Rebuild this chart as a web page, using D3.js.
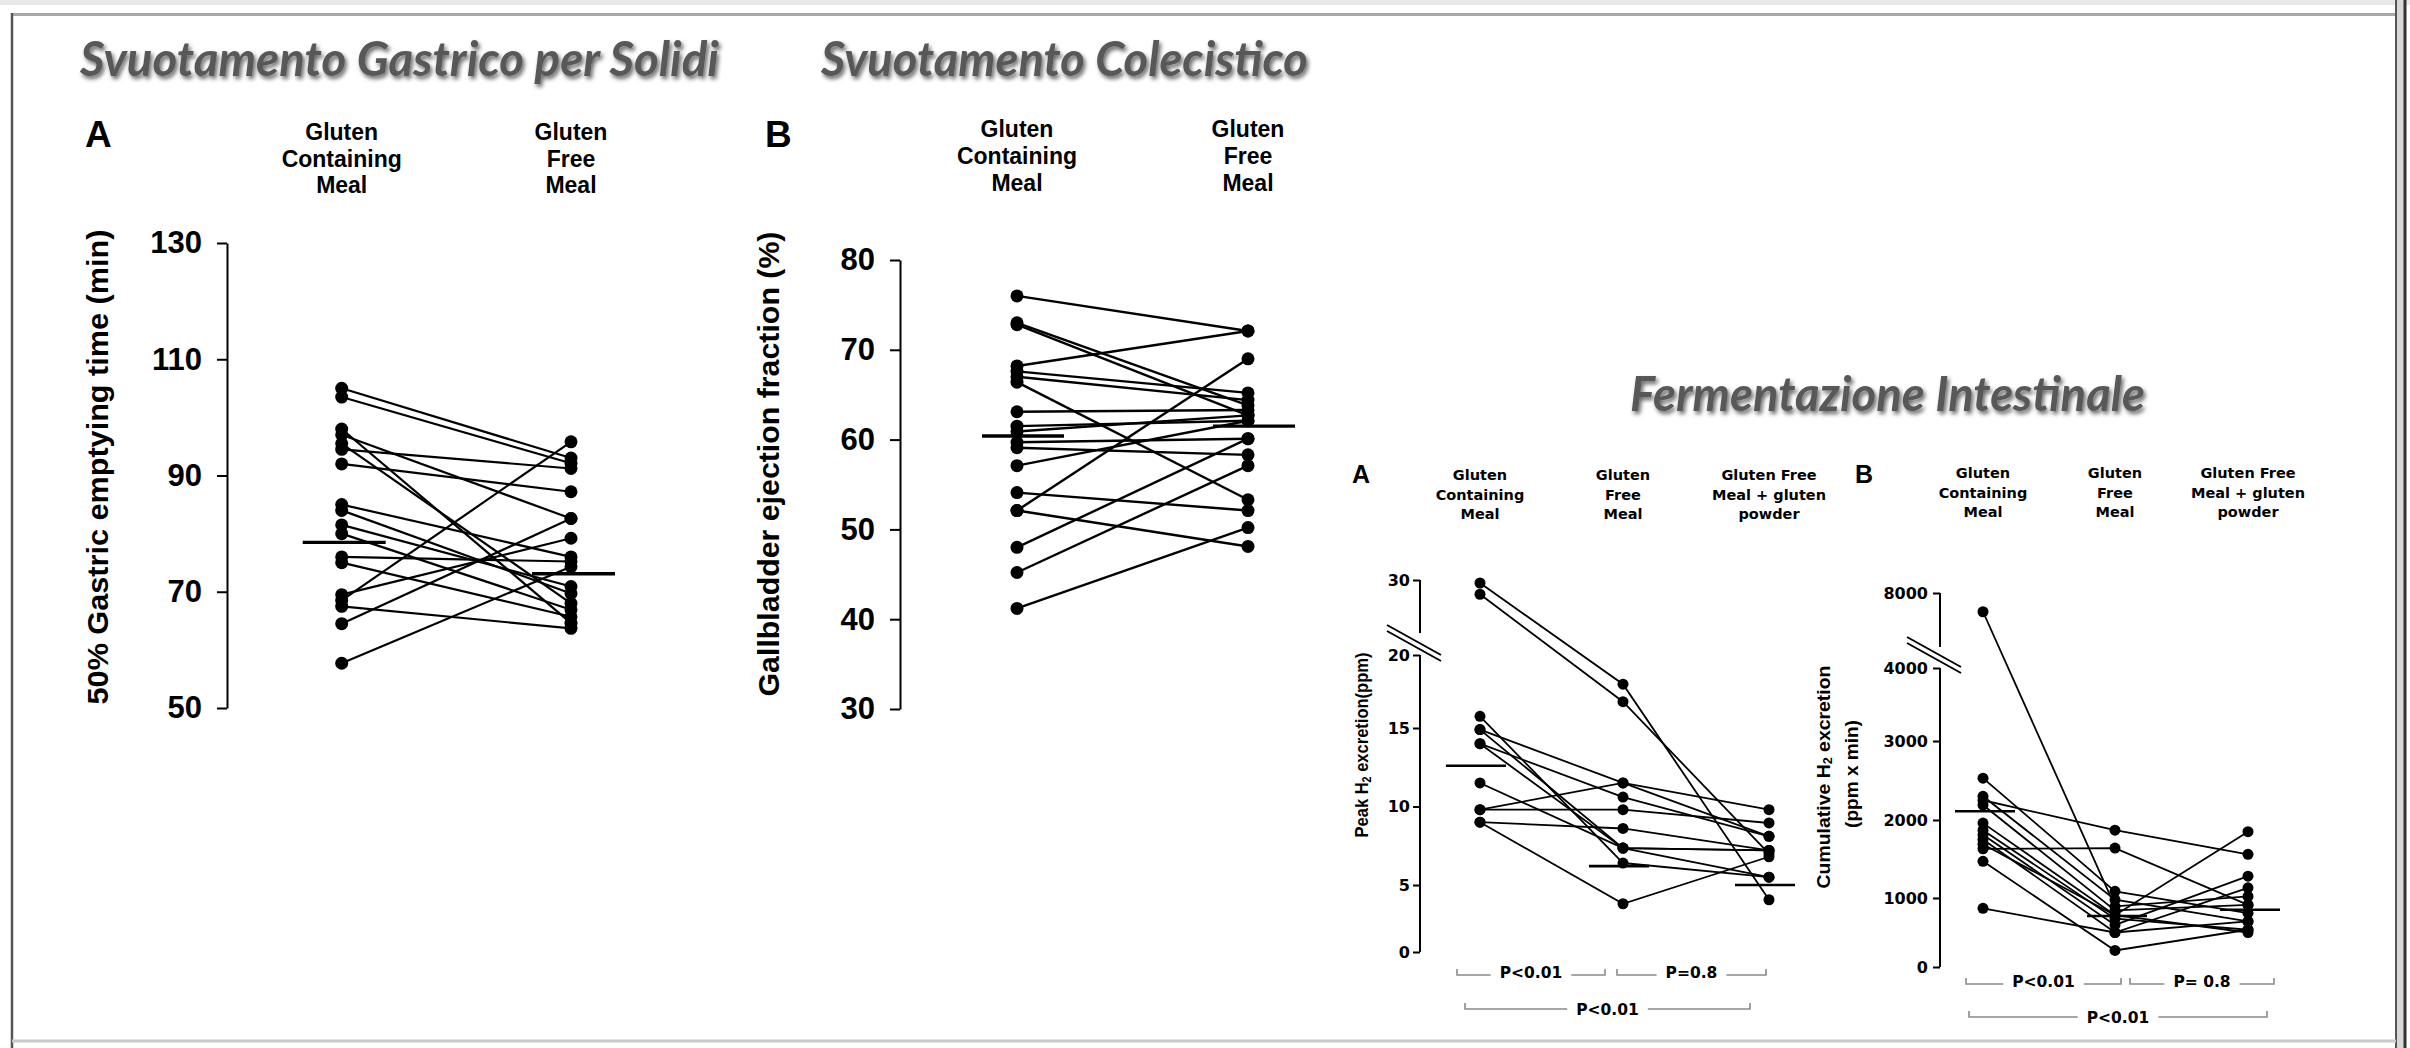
<!DOCTYPE html>
<html>
<head>
<meta charset="utf-8">
<script src="https://cdn.jsdelivr.net/npm/d3@7"></script>
<style>
  body { margin: 0; background: #fff; }
  svg { display: block; }
</style>
</head>
<body>
<div id="chart"></div>
<script>
// ---- data ----
const titles = ["Svuotamento Gastrico per Solidi", "Svuotamento Colecistico", "Fermentazione Intestinale"];

const twoGroups = ["Gluten Containing Meal", "Gluten Free Meal"];
const threeGroups = ["Gluten Containing Meal", "Gluten Free Meal", "Gluten Free Meal + gluten powder"];
const twoHeaders = [["Gluten", "Containing", "Meal"], ["Gluten", "Free", "Meal"]];
const threeHeaders = [["Gluten", "Containing", "Meal"], ["Gluten", "Free", "Meal"], ["Gluten Free", "Meal + gluten", "powder"]];

// gastric emptying (min)
const gastricTicks = [50, 70, 90, 110, 130];
const gastricGC = [105, 103.5, 98, 97, 95.5, 94.5, 92, 85, 84, 81.5, 80, 76, 75, 69.5, 68.5, 67.5, 64.5, 57.7];
const gastricGF = [93, 92.1, 64.6, 82.6, 68.0, 91.2, 87.2, 76.0, 69.7, 70.9, 66.9, 75.2, 65.7, 79.2, 95.8, 63.7, 82.6, 74.3];
const gastricMid = [78.5, 73.1];

// gallbladder ejection fraction (%)
const gbTicks = [30, 40, 50, 60, 70, 80];
const gbGC = [76.0, 73.0, 72.8, 68.2, 67.6, 67.0, 66.4, 63.1, 61.5, 60.9, 59.7, 59.1, 57.1, 54.1, 52.1, 52.1, 48.0, 45.2, 41.2];
const gbGF = [72.1, 63.8, 62.7, 72.1, 65.2, 64.4, 53.3, 63.3, 62.1, 62.7, 60.1, 58.3, 62.1, 52.1, 69.0, 48.1, 60.1, 57.1, 50.2];
const gbMid = [60.4, 61.5];

// peak H2 excretion (ppm)
const peakTicks = [0, 5, 10, 15, 20, 30];
const peakGC  = [29.6, 28.1, 15.8, 14.9, 14.9, 14.0, 14.0, 11.5, 9.8, 9.8, 9.0, 9.0];
const peakGF  = [18.0, 16.8, 6.4, 11.5, 7.35, 10.6, 7.35, 7.35, 11.5, 9.8, 8.6, 3.6];
const peakGFP = [3.9, 7.0, 5.5, 8.1, 7.2, 8.1, 7.2, 5.5, 9.8, 8.95, 7.2, 6.8];
const peakMid = [12.6, 6.2, 5.0];

// cumulative H2 excretion (ppm x min)
const cumTicks = [0, 1000, 2000, 3000, 4000, 8000];
const cumGC  = [7000, 2530, 2300, 2250, 2190, 1960, 1870, 1810, 1750, 1690, 1630, 1470, 850];
const cumGF  = [880, 1085, 975, 1870, 820, 750, 700, 610, 500, 750, 1640, 240, 500];
const cumGFP = [1020, 780, 660, 1560, 900, 1850, 540, 1280, 1130, 500, 900, 540, 660];
const cumMid = [2110, 740, 830];

const peakPvals = ["P<0.01", "P=0.8", "P<0.01"];
const cumPvals = ["P<0.01", "P= 0.8", "P<0.01"];

// ---- drawing ----
const ARIAL = "'Liberation Sans', Arial, sans-serif";
const VERD = "'DejaVu Sans', Verdana, sans-serif";

const svg = d3.select("#chart").append("svg")
  .attr("width", 2410).attr("height", 1048)
  .style("font-family", ARIAL);

const defs = svg.append("defs");
defs.append("filter").attr("id", "shadow")
  .attr("x", "-5%").attr("y", "-30%").attr("width", "112%").attr("height", "170%")
  .append("feDropShadow")
  .attr("dx", 2).attr("dy", 3).attr("stdDeviation", 2)
  .attr("flood-color", "#000").attr("flood-opacity", 0.6);

// frame of the slide
svg.append("rect").attr("x", 0).attr("y", 0).attr("width", 2410).attr("height", 5).attr("fill", "#e8e8e8");
svg.append("line").attr("x1", 12).attr("x2", 2400).attr("y1", 14.5).attr("y2", 14.5)
  .attr("stroke", "#a8a8a8").attr("stroke-width", 3);
svg.append("line").attr("x1", 12).attr("x2", 12).attr("y1", 13).attr("y2", 1048)
  .attr("stroke", "#555").attr("stroke-width", 2.5);
svg.append("rect").attr("x", 2396).attr("y", 0).attr("width", 9).attr("height", 1048).attr("fill", "#d8d8d8");
svg.append("line").attr("x1", 2396).attr("x2", 2396).attr("y1", 0).attr("y2", 1048)
  .attr("stroke", "#555").attr("stroke-width", 2);
svg.append("line").attr("x1", 2405).attr("x2", 2405).attr("y1", 0).attr("y2", 1048)
  .attr("stroke", "#333").attr("stroke-width", 3);
svg.append("line").attr("x1", 12).attr("x2", 2396).attr("y1", 1041).attr("y2", 1041)
  .attr("stroke", "#c8c8c8").attr("stroke-width", 3);

// section titles
const titlePos = [{x: 80, y: 76, len: 639}, {x: 821, y: 76, len: 487}, {x: 1630, y: 411, len: 515}];
svg.append("g").selectAll("text").data(titles).join("text")
  .attr("x", (d, i) => titlePos[i].x)
  .attr("y", (d, i) => titlePos[i].y)
  .attr("textLength", (d, i) => titlePos[i].len)
  .attr("lengthAdjust", "spacingAndGlyphs")
  .attr("font-family", "Lato, 'Open Sans', sans-serif")
  .attr("font-style", "italic")
  .attr("font-weight", "bold")
  .attr("font-size", 48)
  .attr("fill", "#595959")
  .attr("filter", "url(#shadow)")
  .text(d => d);

// squeeze a rotated label so that its length matches the picture
function fitRotated(g, target) {
  const t = g.select("text");
  const len = t.node().getComputedTextLength();
  const tr = g.attr("transform");
  g.attr("transform", tr + ` scale(${target / len},1)`);
}

function drawPanel(p) {
  const g = svg.append("g");
  const x = d3.scaleOrdinal().domain(p.groups).range(p.cols);
  const y = p.y;
  const subjects = d3.zip(...p.values);

  // axis
  const axis = d3.axisLeft(y).tickValues(p.ticks)
    .tickSize(p.tickSize).tickPadding(p.tickPad).tickSizeOuter(0)
    .tickFormat(d3.format("d"));
  const ax = g.append("g").attr("transform", `translate(${p.axisX},0)`).call(axis);
  ax.selectAll("text")
    .attr("font-size", p.tickFont).attr("font-weight", "bold")
    .attr("font-family", p.tickFamily).attr("fill", "#000");
  ax.selectAll("line").attr("stroke", "#000").attr("stroke-width", p.axisW);
  ax.select(".domain").attr("stroke", "#000").attr("stroke-width", p.axisW);

  if (p.brk) {
    ax.select(".domain").remove();
    const b = p.brk;
    ax.append("line").attr("x1", 0).attr("x2", 0)
      .attr("y1", y(b.at)).attr("y2", y(p.ticks[0]))
      .attr("stroke", "#000").attr("stroke-width", p.axisW);
    ax.append("line").attr("x1", 0).attr("x2", 0)
      .attr("y1", y(b.top)).attr("y2", y(b.top) + b.upperLen)
      .attr("stroke", "#000").attr("stroke-width", p.axisW);
    const cy = y(b.at) - b.rise;
    [0, b.gap].forEach(off => {
      ax.append("line")
        .attr("x1", -6 - b.halfW).attr("y1", cy - b.halfH + off)
        .attr("x2", -6 + b.halfW).attr("y2", cy + b.halfH + off)
        .attr("stroke", "#000").attr("stroke-width", 2);
    });
  }

  // subject lines and dots
  const line = d3.line().x((v, i) => x(p.groups[i])).y(v => y(v));
  g.append("g").selectAll("path").data(subjects).join("path")
    .attr("d", line).attr("fill", "none")
    .attr("stroke", "#000").attr("stroke-width", p.lineW);

  const pts = subjects.flatMap(s => s.map((v, i) => ({grp: p.groups[i], v})));
  g.append("g").selectAll("circle").data(pts).join("circle")
    .attr("cx", d => x(d.grp)).attr("cy", d => y(d.v)).attr("r", p.r).attr("fill", "#000");

  // central value bars
  g.append("g").selectAll("line").data(p.mid).join("line")
    .attr("x1", (v, i) => x(p.groups[i]) - p.midL)
    .attr("x2", (v, i) => x(p.groups[i]) + p.midR)
    .attr("y1", v => y(v)).attr("y2", v => y(v))
    .attr("stroke", "#000").attr("stroke-width", p.midW);

  // column headers
  const hd = g.append("g").attr("font-family", p.head.family).attr("font-weight", "bold")
    .attr("font-size", p.head.size).attr("text-anchor", "middle");
  p.headers.forEach((lines, i) => {
    hd.append("text").attr("x", x(p.groups[i])).attr("y", p.head.y0)
      .selectAll("tspan").data(lines).join("tspan")
      .attr("x", x(p.groups[i])).attr("dy", (d, k) => k === 0 ? 0 : p.head.lh)
      .text(d => d);
  });

  // panel letter
  g.append("text").attr("x", p.letter.x).attr("y", p.letter.y)
    .attr("font-size", p.letter.size).attr("font-weight", "bold").text(p.letter.t);

  // y axis titles
  p.titles.forEach(tt => {
    const tg = g.append("g").attr("transform", `translate(${tt.cx},${tt.cy}) rotate(-90)`);
    const t = tg.append("text").attr("text-anchor", "middle").attr("dominant-baseline", "central")
      .attr("font-size", tt.size).attr("font-weight", "bold");
    tt.parts.forEach(part => {
      if (part.sub) {
        t.append("tspan").attr("font-size", tt.size * 0.65).attr("dy", tt.size * 0.25).text(part.t);
      } else {
        t.append("tspan").attr("dy", part.after ? -tt.size * 0.25 : 0).text(part.t);
      }
    });
    fitRotated(tg, tt.len);
  });

  return x;
}

function drawBrackets(x, groups, labels, layout) {
  const g = svg.append("g").attr("font-family", VERD).attr("font-weight", "bold").attr("font-size", 15.5);
  labels.forEach((lab, i) => {
    const L = layout[i];
    const x1 = x(groups[L.from]) + L.o1;
    const x2 = x(groups[L.to]) + L.o2;
    const cx = (x1 + x2) / 2;
    const t = g.append("text").attr("x", cx).attr("y", L.ty).attr("text-anchor", "middle").text(lab);
    const w = t.node().getComputedTextLength();
    g.append("path")
      .attr("d", `M${x1},${L.ly - 6}V${L.ly}H${cx - w / 2 - 9}M${cx + w / 2 + 9},${L.ly}H${x2}V${L.ly - 6}`)
      .attr("fill", "none").attr("stroke", "#8a8a8a").attr("stroke-width", 1.6);
  });
}

// Panel A: gastric emptying
drawPanel({
  groups: twoGroups, headers: twoHeaders, values: [gastricGC, gastricGF], mid: gastricMid,
  cols: [341.7, 571], y: d3.scaleLinear().domain([50, 130]).range([708, 243]),
  ticks: gastricTicks, axisX: 227, tickSize: 10, tickPad: 15, tickFont: 31, tickFamily: ARIAL, axisW: 2,
  r: 6.5, lineW: 2.2, midW: 3.3, midL: 39, midR: 44,
  head: {y0: 140, lh: 26.6, size: 23, family: ARIAL},
  letter: {t: "A", x: 85, y: 147, size: 37},
  titles: [{parts: [{t: "50%  Gastric emptying time (min)"}], cx: 97, cy: 467, size: 30, len: 475}]
});

// Panel B: gallbladder
drawPanel({
  groups: twoGroups, headers: twoHeaders, values: [gbGC, gbGF], mid: gbMid,
  cols: [1017, 1248], y: d3.scaleLinear().domain([30, 80]).range([709, 260]),
  ticks: gbTicks, axisX: 900, tickSize: 10, tickPad: 15, tickFont: 31, tickFamily: ARIAL, axisW: 2,
  r: 6.5, lineW: 2.4, midW: 3.3, midL: 35, midR: 47,
  head: {y0: 137, lh: 26.8, size: 23, family: ARIAL},
  letter: {t: "B", x: 765, y: 147, size: 37},
  titles: [{parts: [{t: "Gallbladder  ejection  fraction (%)"}], cx: 768, cy: 464, size: 30, len: 465}]
});

// Fermentation A: peak H2
const peakY = d3.scaleLinear().domain([0, 5, 15, 20, 30]).range([952, 885, 728, 655, 580]);
const xA = drawPanel({
  groups: threeGroups, headers: threeHeaders, values: [peakGC, peakGF, peakGFP], mid: peakMid,
  cols: [1480, 1623, 1769], y: peakY,
  ticks: peakTicks, axisX: 1420, tickSize: 7, tickPad: 3, tickFont: 16, tickFamily: VERD, axisW: 2,
  brk: {at: 20, top: 30, upperLen: 53, rise: 15, halfW: 27, halfH: 15, gap: 6},
  r: 5.5, lineW: 1.8, midW: 2.6, midL: 34, midR: 26,
  head: {y0: 480, lh: 19.7, size: 14.5, family: VERD},
  letter: {t: "A", x: 1352, y: 483, size: 25},
  titles: [{parts: [{t: "Peak H"}, {t: "2", sub: true}, {t: " excretion(ppm)", after: true}], cx: 1362, cy: 745, size: 19, len: 185}]
});
drawBrackets(xA, threeGroups, peakPvals, [
  {from: 0, to: 1, o1: -23, o2: -18, ly: 975, ty: 978},
  {from: 1, to: 2, o1: -6, o2: -3, ly: 975, ty: 978},
  {from: 0, to: 2, o1: -15, o2: -19, ly: 1009, ty: 1015}
]);

// Fermentation B: cumulative H2
const cumY = d3.scaleLinear().domain([0, 1000, 2000, 3000, 4000, 8000]).range([967, 898, 820, 741, 668, 593]);
const xB = drawPanel({
  groups: threeGroups, headers: threeHeaders, values: [cumGC, cumGF, cumGFP], mid: cumMid,
  cols: [1983, 2115, 2248], y: cumY,
  ticks: cumTicks, axisX: 1940, tickSize: 7, tickPad: 5, tickFont: 16, tickFamily: VERD, axisW: 2,
  brk: {at: 4000, top: 8000, upperLen: 54, rise: 16, halfW: 27, halfH: 15, gap: 6},
  r: 5.5, lineW: 1.8, midW: 2.6, midL: 28, midR: 32,
  head: {y0: 478, lh: 19.5, size: 14.5, family: VERD},
  letter: {t: "B", x: 1855, y: 483, size: 25},
  titles: [
    {parts: [{t: "Cumulative H"}, {t: "2", sub: true}, {t: " excretion", after: true}], cx: 1823, cy: 777, size: 19, len: 223},
    {parts: [{t: "(ppm x min)"}], cx: 1851, cy: 774, size: 19, len: 108}
  ]
});
drawBrackets(xB, threeGroups, cumPvals, [
  {from: 0, to: 1, o1: -17, o2: 6, ly: 984, ty: 987},
  {from: 1, to: 2, o1: 15, o2: 26, ly: 984, ty: 987},
  {from: 0, to: 2, o1: -14, o2: 19, ly: 1017, ty: 1023}
]);
</script>
</body>
</html>
